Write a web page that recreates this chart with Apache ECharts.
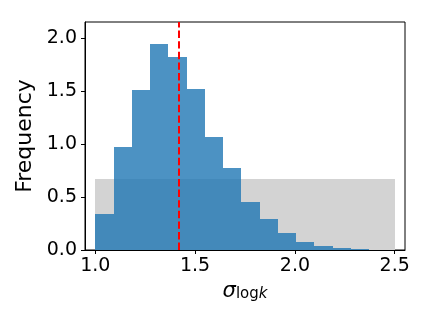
<!DOCTYPE html>
<html><head><meta charset="utf-8">
<script src="https://cdn.jsdelivr.net/npm/echarts@6/dist/echarts.min.js"></script>
<style>html,body{margin:0;padding:0;background:#fff}#c{width:432px;height:324px}</style>
</head><body><div id="c"></div>
<script>
const binEdges = [1.0, 1.0915, 1.183, 1.2745, 1.366, 1.4575, 1.549, 1.6405, 1.732, 1.8235, 1.915, 2.0065, 2.098, 2.1895, 2.281, 2.3725];
const freq = [0.34, 0.973, 1.512, 1.94, 1.823, 1.521, 1.068, 0.774, 0.453, 0.293, 0.161, 0.076, 0.038, 0.019, 0.009];
const priorRange = [1.0, 2.5];
const priorDensity = 0.667;
const markerValue = 1.417;
const xTicks = [1.0, 1.5, 2.0, 2.5];
const yTicks = [0, 0.5, 1.0, 1.5, 2.0];

const histData = freq.map((h, i) => [binEdges[i], binEdges[i + 1], h]);
const priorData = [[priorRange[0], priorRange[1], priorDensity]];

function rectRenderer(color) {
  return function (params, api) {
    const p0 = api.coord([api.value(0), api.value(2)]);
    const p1 = api.coord([api.value(1), 0]);
    const x0 = Math.round(p0[0]), x1 = Math.round(p1[0]);
    const y0 = Math.round(p0[1]), y1 = Math.round(p1[1]);
    return {
      type: 'rect',
      shape: { x: x0, y: y0, width: x1 - x0, height: y1 - y0 },
      style: { fill: color }
    };
  };
}

const font = 'DejaVu Sans';
const chart = echarts.init(document.getElementById('c'), null, { renderer: 'canvas' });
chart.setOption({
  animation: false,
  backgroundColor: '#fff',
  grid: { left: 85, top: 22, right: 27, bottom: 74, show: true, borderColor: '#000', borderWidth: 1, backgroundColor: 'transparent' },
  xAxis: {
    type: 'value', min: 0.9485, max: 2.5515,
    splitLine: { show: false },
    axisLine: { show: true, onZero: false, lineStyle: { color: '#000', width: 1 } },
    axisTick: { show: true, length: 4, customValues: xTicks, lineStyle: { color: '#000' } },
    axisLabel: { customValues: xTicks, fontFamily: font, fontSize: 19, color: '#000', margin: 7, formatter: v => v.toFixed(1) },
    name: '{s|σ}{sub|log}{subk|k}',
    nameLocation: 'middle', nameGap: 23,
    nameTextStyle: {
      rich: {
        s: { fontFamily: font, fontSize: 21, fontStyle: 'italic', color: '#000', verticalAlign: 'bottom' },
        sub: { fontFamily: font, fontSize: 15, color: '#000', padding: [9, 0, 0, 0], verticalAlign: 'bottom' },
        subk: { fontFamily: font, fontSize: 15, fontStyle: 'italic', color: '#000', padding: [9, 0, 0, 0], verticalAlign: 'bottom' }
      }
    }
  },
  yAxis: {
    type: 'value', min: 0, max: 2.151,
    splitLine: { show: false },
    axisLine: { show: true, lineStyle: { color: '#000', width: 1 } },
    axisTick: { show: true, length: 4, customValues: yTicks, lineStyle: { color: '#000' } },
    axisLabel: { customValues: yTicks, fontFamily: font, fontSize: 19, color: '#000', margin: 8, formatter: v => v.toFixed(1) },
    name: 'Frequency', nameLocation: 'middle', nameGap: 36,
    nameTextStyle: { fontFamily: font, fontSize: 22, color: '#000' }
  },
  series: [
    {
      type: 'custom', name: 'prior', renderItem: rectRenderer('#d3d3d3'),
      data: priorData, encode: { x: [0, 1], y: 2 }, z: 1, clip: true, silent: true
    },
    {
      type: 'custom', name: 'hist', renderItem: rectRenderer('rgba(31,119,180,0.8)'),
      data: histData, encode: { x: [0, 1], y: 2 }, z: 2, clip: true, silent: true,
      markLine: {
        silent: true, symbol: 'none', animation: false,
        label: { show: false },
        lineStyle: { color: '#ff0000', width: 2, type: [7.4, 3.2] },
        data: [{ xAxis: markerValue }]
      }
    }
  ]
});
</script></body></html>
